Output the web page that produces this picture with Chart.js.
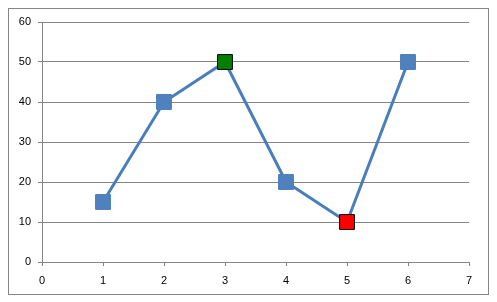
<!DOCTYPE html>
<html>

<head>
  <meta charset="UTF-8" />
  <title>Line with highlighted points</title>
  <script src="https://cdn.jsdelivr.net/npm/chart.js@4.4.1/dist/chart.umd.min.js"></script>
  <style>
    html, body { margin: 0; padding: 0; background: #fff; }
  </style>
</head>

<body>
  <canvas id="chart" width="497" height="302"></canvas>
  <script>
    // values
    const xValues = [1, 2, 3, 4, 5, 6];
    const yValues = [15, 40, 50, 20, 10, 50];
    const highIndex = 2;  // green marker
    const lowIndex = 4;   // red marker
    const xTicks = [0, 1, 2, 3, 4, 5, 6, 7];
    const yTicks = [0, 10, 20, 30, 40, 50, 60];

    const gridGray = '#868686';
    const fills = xValues.map((x, i) => i === highIndex ? '#008000' : i === lowIndex ? '#FF0000' : '#4F81BD');
    const edges = xValues.map((x, i) => (i === highIndex || i === lowIndex) ? '#000000' : '#4A7EBB');

    const frame = {
      id: 'frame',
      beforeDraw(chart) {
        const c = chart.ctx;
        c.save();
        c.strokeStyle = gridGray;
        c.lineWidth = 1;
        c.strokeRect(8.5, 8.5, 480, 286);
        c.restore();
      }
    };

    const font = { family: 'Liberation Sans', size: 11 };

    new Chart(document.getElementById('chart').getContext('2d'), {
      type: 'scatter',
      data: {
        datasets: [{
          data: xValues.map((x, i) => ({ x: x, y: yValues[i] })),
          showLine: true,
          borderColor: '#4A7EBB',
          borderWidth: 3,
          pointStyle: 'rect',
          pointRadius: 10.5,
          pointHoverRadius: 10.5,
          pointBorderWidth: 1,
          pointBackgroundColor: fills,
          pointBorderColor: edges
        }]
      },
      options: {
        responsive: false,
        animation: false,
        layout: { padding: { top: 22, right: 28, left: 0, bottom: 0 } },
        plugins: { legend: { display: false }, tooltip: { enabled: false } },
        scales: {
          x: {
            type: 'linear',
            min: 0,
            max: 7,
            afterBuildTicks: s => { s.ticks = xTicks.map(v => ({ value: v })); },
            afterFit: s => { s.height = 40; },
            ticks: { color: '#000', font: font, padding: 8, maxRotation: 0 },
            grid: { drawOnChartArea: false, drawTicks: true, tickLength: 4, color: gridGray },
            border: { color: gridGray }
          },
          y: {
            min: 0,
            max: 60,
            afterBuildTicks: s => { s.ticks = yTicks.map(v => ({ value: v })); },
            afterFit: s => { s.width = 42; },
            ticks: { color: '#000', font: font, padding: 7 },
            grid: { drawTicks: true, tickLength: 4, color: gridGray },
            border: { color: gridGray }
          }
        }
      },
      plugins: [frame]
    });
  </script>
</body>

</html>
